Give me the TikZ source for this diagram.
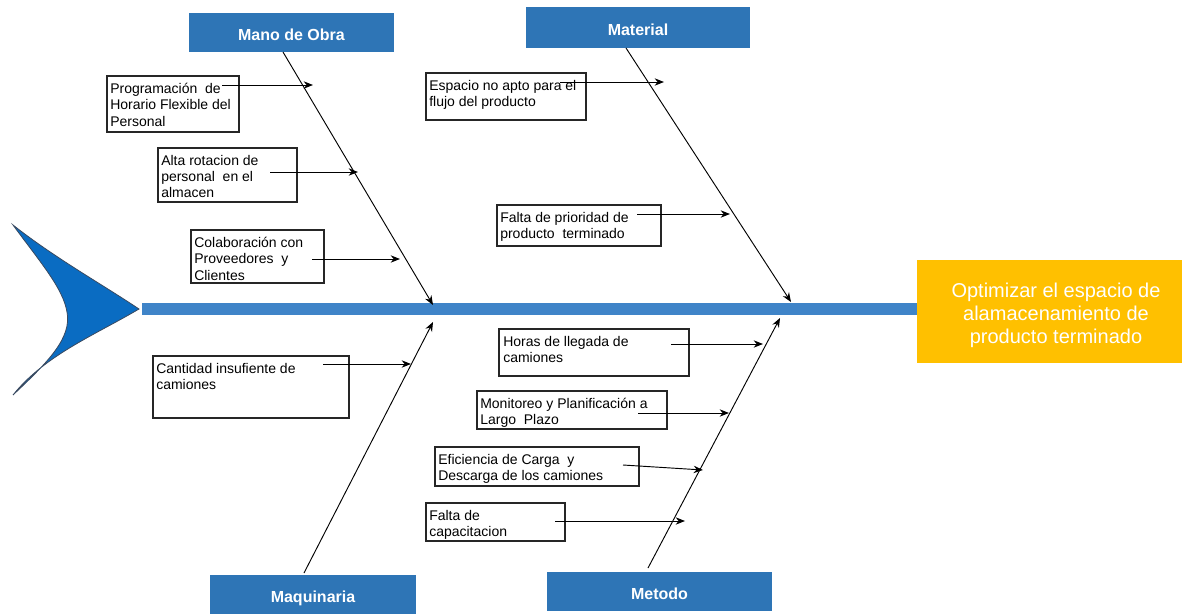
\documentclass[tikz,border=0pt]{standalone}
\usepackage{fontspec}
\setmainfont{Liberation Sans}
\usetikzlibrary{arrows.meta}
\definecolor{headblue}{HTML}{2E75B6}
\definecolor{spineblue}{HTML}{3F84C8}
\definecolor{tailblue}{HTML}{0A6CC2}
\definecolor{tailedge}{HTML}{3A4A60}
\definecolor{goalgold}{HTML}{FFC000}
\tikzset{
  header/.style={fill=headblue, text=white, font=\fontsize{12}{13}\selectfont\bfseries, inner sep=0pt,
    text height=12.5pt, text depth=0pt},
  causebox/.style={draw=black!85, line width=0.8pt, inner sep=0pt},
  causetext/.style={anchor=north west, inner sep=0pt, align=left, font=\fontsize{10.5}{12.2}\selectfont},
  bone/.style={line width=0.7pt, -{Stealth[length=7,width=5.5]}},
  feed/.style={line width=0.7pt, -{Stealth[length=7,width=5.5]}}
}
\begin{document}
\begin{tikzpicture}[x=0.75pt,y=-0.75pt]
\useasboundingbox (0,0) rectangle (1182,614);

% fish tail
\filldraw[fill=tailblue, draw=tailedge, line width=0.6pt]
  (13,225) .. controls (55,258) and (100,283) .. (139,309)
  .. controls (95,335) and (45,355) .. (13,395)
  .. controls (48,362) and (72,338) .. (67,312)
  .. controls (63,288) and (40,262) .. (13,225) -- cycle;

% spine
\fill[spineblue] (142,303) rectangle (917,315);

% goal
\node[fill=goalgold, minimum width=265*0.75pt, minimum height=103*0.75pt, inner sep=0pt] (goal) at (1049.5,311.5) {};
\node[text=white, align=center, font=\fontsize{15}{17.3}\selectfont, inner sep=0pt] (goaltext) at (1056,315)
  {Optimizar el espacio de\\alamacenamiento de\\producto terminado};

% category headers
\node[header, minimum width=205*0.75pt, minimum height=39*0.75pt] (mano) at (291.5,32.5) {Mano de Obra};
\node[header, minimum width=224*0.75pt, minimum height=41*0.75pt] (mat) at (638,27.5) {Material};
\node[header, minimum width=206*0.75pt, minimum height=39*0.75pt] (maq) at (313,594.5) {Maquinaria};
\node[header, minimum width=225*0.75pt, minimum height=39*0.75pt] (met) at (659.5,591.5) {Metodo};

% main bones
\coordinate (manoS) at (283,52);   \coordinate (manoE) at (433,305);
\coordinate (matS) at (626,48);    \coordinate (matE) at (791,302);
\coordinate (maqS) at (304,573);   \coordinate (maqE) at (433,322);
\coordinate (metS) at (648,568);   \coordinate (metE) at (780,318);
\draw[bone] (manoS) -- (manoE);
\draw[bone] (matS) -- (matE);
\draw[bone] (maqS) -- (maqE);
\draw[bone] (metS) -- (metE);

% cause boxes
\node[causebox, minimum width=132*0.75pt, minimum height=56*0.75pt] (c1) at (173,104) {};
\node[causetext] (t1) at (110,83) {Programación\ \ de\\Horario Flexible del\\Personal};
\node[causebox, minimum width=139*0.75pt, minimum height=54*0.75pt] (c2) at (227.5,175) {};
\node[causetext] (t2) at (161,155) {Alta rotacion de\\personal\ \ en el\\almacen};
\node[causebox, minimum width=133*0.75pt, minimum height=53*0.75pt] (c3) at (257.5,256.5) {};
\node[causetext] (t3) at (194,237) {Colaboración con\\Proveedores\ \ y\\Clientes};
\node[causebox, minimum width=160*0.75pt, minimum height=47*0.75pt] (c4) at (506,96.5) {};
\node[causetext] (t4) at (429,80) {Espacio no apto para el\\flujo del producto};
\node[causebox, minimum width=164*0.75pt, minimum height=41*0.75pt] (c5) at (579,225.5) {};
\node[causetext] (t5) at (500,212) {Falta de prioridad de\\producto\ \ terminado};
\node[causebox, minimum width=196*0.75pt, minimum height=62*0.75pt] (c6) at (251,387) {};
\node[causetext] (t6) at (156,363) {Cantidad insufiente de\\camiones};
\node[causebox, minimum width=190*0.75pt, minimum height=47*0.75pt] (c7) at (594,352.5) {};
\node[causetext] (t7) at (503,336) {Horas\ de llegada de\\camiones};
\node[causebox, minimum width=190*0.75pt, minimum height=38*0.75pt] (c8) at (572,410) {};
\node[causetext] (t8) at (480,398) {Monitoreo\ y Planificación\ a\\Largo\ \ Plazo};
\node[causebox, minimum width=204*0.75pt, minimum height=39*0.75pt] (c9) at (537,466.5) {};
\node[causetext] (t9) at (438,454) {Eficiencia de Carga\ \ y\\Descarga\ de los\ camiones};
\node[causebox, minimum width=139*0.75pt, minimum height=38*0.75pt] (c10) at (495.5,522) {};
\node[causetext] (t10) at (429,510) {Falta de\\capacitacion};

% feeder arrows onto the bones
\coordinate (f1) at (222,85);   \coordinate (g1) at (313,85);
\coordinate (f2) at (270,172);  \coordinate (g2) at (358,172);
\coordinate (f3) at (312,259);  \coordinate (g3) at (400,259);
\coordinate (f4) at (560,82);   \coordinate (g4) at (664,82);
\coordinate (f5) at (637,214);  \coordinate (g5) at (730,214);
\coordinate (f6) at (323,364);  \coordinate (g6) at (411,364);
\coordinate (f7) at (671,344);  \coordinate (g7) at (763,344);
\coordinate (f8) at (638,413);  \coordinate (g8) at (729,413);
\coordinate (f9) at (623,465);  \coordinate (g9) at (703,470);
\coordinate (f10) at (555,521); \coordinate (g10) at (685,521);
\foreach \i in {1,...,10} { \draw[feed] (f\i) -- (g\i); }
\end{tikzpicture}
\end{document}
